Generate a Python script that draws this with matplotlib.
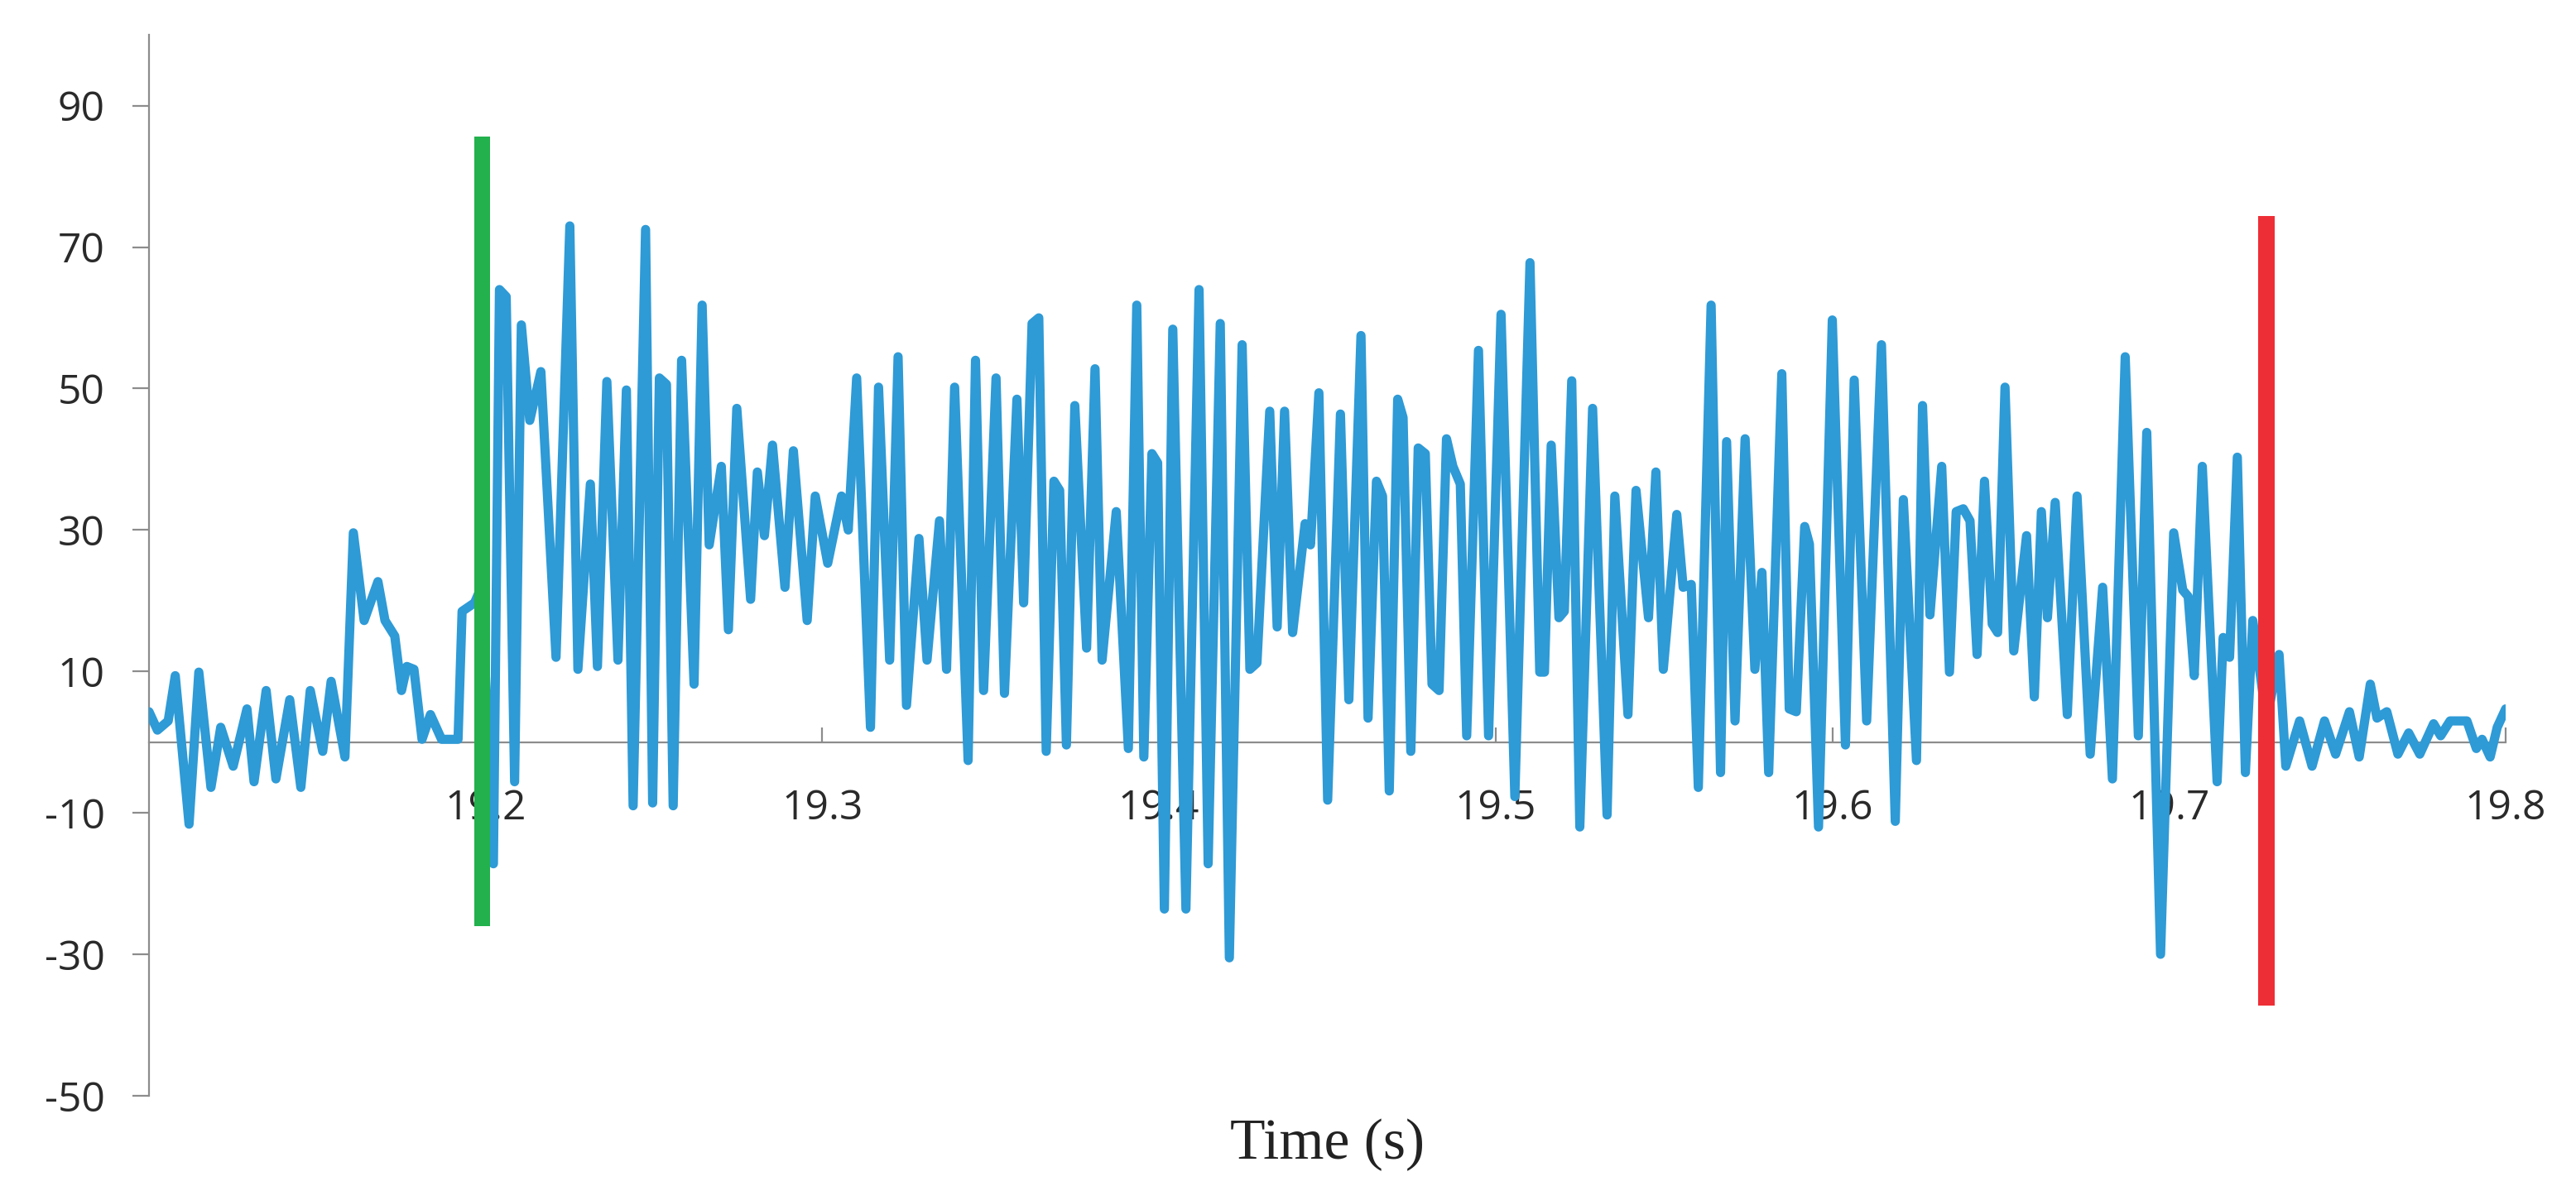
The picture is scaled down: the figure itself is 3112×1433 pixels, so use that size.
import matplotlib
matplotlib.use("Agg")
import matplotlib.pyplot as plt

# ---- data (time in s, signal value) ----
time_s = [
    19.1000, 19.1025, 19.1057, 19.1078, 19.1119, 19.1148, 19.1184, 19.1213, 19.1250, 19.1291,
    19.1312, 19.1348, 19.1377, 19.1418, 19.1451, 19.1479, 19.1516, 19.1541, 19.1582, 19.1607,
    19.1639, 19.1680, 19.1701, 19.1730, 19.1750, 19.1766, 19.1787, 19.1811, 19.1836, 19.1869,
    19.1918, 19.1930, 19.1967, 19.1988, 19.2023, 19.2041, 19.2061, 19.2086, 19.2106, 19.2131,
    19.2164, 19.2209, 19.2250, 19.2274, 19.2311, 19.2332, 19.2360, 19.2393, 19.2418, 19.2438,
    19.2475, 19.2496, 19.2516, 19.2537, 19.2557, 19.2582, 19.2619, 19.2643, 19.2664, 19.2700,
    19.2721, 19.2746, 19.2787, 19.2807, 19.2828, 19.2852, 19.2889, 19.2914, 19.2955, 19.2979,
    19.3016, 19.3057, 19.3077, 19.3102, 19.3143, 19.3167, 19.3200, 19.3225, 19.3250, 19.3287,
    19.3311, 19.3348, 19.3369, 19.3393, 19.3433, 19.3455, 19.3479, 19.3516, 19.3541, 19.3578,
    19.3598, 19.3623, 19.3643, 19.3665, 19.3688, 19.3705, 19.3725, 19.3750, 19.3785, 19.3810,
    19.3831, 19.3873, 19.3909, 19.3934, 19.3955, 19.3979, 19.3996, 19.4016, 19.4041, 19.4080,
    19.4119, 19.4146, 19.4182, 19.4209, 19.4247, 19.4270, 19.4291, 19.4329, 19.4351, 19.4373,
    19.4397, 19.4434, 19.4450, 19.4475, 19.4501, 19.4539, 19.4564, 19.4600, 19.4621, 19.4646,
    19.4664, 19.4684, 19.4709, 19.4725, 19.4748, 19.4770, 19.4791, 19.4811, 19.4832, 19.4854,
    19.4873, 19.4895, 19.4914, 19.4949, 19.4979, 19.5016, 19.5057, 19.5102, 19.5131, 19.5145,
    19.5165, 19.5188, 19.5204, 19.5226, 19.5250, 19.5288, 19.5331, 19.5354, 19.5393, 19.5417,
    19.5454, 19.5476, 19.5498, 19.5538, 19.5557, 19.5581, 19.5602, 19.5640, 19.5668, 19.5686,
    19.5711, 19.5741, 19.5770, 19.5791, 19.5811, 19.5850, 19.5872, 19.5893, 19.5918, 19.5932,
    19.5959, 19.6000, 19.6039, 19.6065, 19.6102, 19.6146, 19.6187, 19.6211, 19.6250, 19.6268,
    19.6290, 19.6325, 19.6348, 19.6368, 19.6389, 19.6409, 19.6430, 19.6452, 19.6475, 19.6491,
    19.6513, 19.6539, 19.6577, 19.6600, 19.6621, 19.6639, 19.6662, 19.6698, 19.6727, 19.6766,
    19.6803, 19.6832, 19.6870, 19.6909, 19.6934, 19.6975, 19.7014, 19.7041, 19.7057, 19.7075,
    19.7099, 19.7143, 19.7161, 19.7180, 19.7203, 19.7227, 19.7249, 19.7290, 19.7327, 19.7347,
    19.7388, 19.7425, 19.7462, 19.7495, 19.7536, 19.7565, 19.7598, 19.7618, 19.7647, 19.7680,
    19.7712, 19.7745, 19.7786, 19.7807, 19.7835, 19.7885, 19.7913, 19.7930, 19.7954, 19.7975,
    19.8000,
]
signal = [
    4.3, 1.7, 3.0, 9.4, -11.6, 9.9, -6.4, 2.1, -3.4, 4.7,
    -5.6, 7.3, -5.2, 6.0, -6.4, 7.3, -1.3, 8.6, -2.1, 29.6,
    17.2, 22.7, 17.2, 15.0, 7.3, 10.7, 10.3, 0.4, 3.9, 0.4,
    0.4, 18.5, 19.7, 22.0, -17.2, 64.0, 63.0, -5.6, 59.0, 45.5,
    52.4, 12.0, 73.0, 10.3, 36.5, 10.7, 51.0, 11.6, 49.8, -9.0,
    72.5, -8.6, 51.5, 50.6, -9.0, 54.0, 8.2, 61.8, 27.9, 39.0,
    15.9, 47.2, 20.2, 38.2, 29.2, 42.0, 21.9, 41.2, 17.2, 34.8,
    25.3, 34.8, 30.0, 51.5, 2.1, 50.2, 11.6, 54.5, 5.2, 28.8,
    11.6, 31.3, 10.3, 50.2, -2.6, 54.0, 7.3, 51.5, 6.9, 48.5,
    19.7, 59.2, 60.0, -1.3, 36.9, 35.6, -0.4, 47.6, 13.3, 52.8,
    11.6, 32.6, -0.9, 61.8, -2.1, 40.8, 39.5, -23.6, 58.4, -23.6,
    64.0, -17.2, 59.2, -30.5, 56.2, 10.3, 11.2, 46.8, 16.3, 46.8,
    15.5, 30.9, 27.9, 49.4, -8.2, 46.4, 6.0, 57.5, 3.4, 36.9,
    34.8, -6.9, 48.5, 45.9, -1.3, 41.6, 40.8, 8.2, 7.3, 42.9,
    39.0, 36.5, 0.9, 55.4, 0.9, 60.5, -7.7, 67.8, 9.9, 9.9,
    42.0, 17.6, 18.5, 51.1, -12.0, 47.2, -10.3, 34.8, 3.9, 35.6,
    17.6, 38.2, 10.3, 32.2, 21.9, 22.3, -6.4, 61.8, -4.3, 42.5,
    3.0, 42.9, 10.3, 24.0, -4.3, 52.1, 4.7, 4.3, 30.5, 28.0,
    -12.0, 59.7, -0.4, 51.2, 3.0, 56.2, -11.2, 34.3, -2.6, 47.6,
    18.0, 39.0, 9.9, 32.6, 33.0, 31.3, 12.4, 36.9, 16.7, 15.5,
    50.2, 12.9, 29.2, 6.4, 32.6, 17.6, 33.9, 3.9, 34.8, -1.7,
    21.9, -5.2, 54.5, 0.9, 43.8, -30.0, 29.6, 21.5, 20.6, 9.4,
    39.0, -5.6, 14.8, 12.0, 40.3, -4.3, 17.2, 3.0, 12.4, -3.4,
    3.0, -3.4, 3.0, -1.7, 4.3, -2.1, 8.2, 3.4, 4.3, -1.7,
    1.3, -1.7, 2.6, 0.9, 3.0, 3.0, -0.9, 0.4, -2.1, 2.1,
    4.7,
]

# vertical marker bars (start / end)
marker_times = [19.199, 19.729]
marker_low = [-26.0, -37.3]
marker_high = [85.6, 74.4]
marker_colors = ["#22b14c", "#ee2e36"]

x_ticks = [19.2, 19.3, 19.4, 19.5, 19.6, 19.7, 19.8]
x_tick_labels = ["19.2", "19.3", "19.4", "19.5", "19.6", "19.7", "19.8"]
y_ticks = [-50, -30, -10, 10, 30, 50, 70, 90]
y_tick_labels = ["-50", "-30", "-10", "10", "30", "50", "70", "90"]
x_label = "Time (s)"

# ---- figure ----
plt.rcParams["axes.unicode_minus"] = False
W, H, DPI = 3112, 1433, 200
fig = plt.figure(figsize=(W / DPI, H / DPI), dpi=DPI)
fig.patch.set_facecolor("white")

left, right = 180 / W, 3027 / W
top_px, bot_px = 42.3, 1323.9
ax = fig.add_axes([left, 1 - bot_px / H, right - left, (bot_px - top_px) / H])
ax.set_xlim(19.1, 19.8)
ax.set_ylim(-50, 100)
ax.set_axisbelow(True)

ax.plot(time_s, signal, color="#2e9ad6", lw=4.0, solid_joinstyle="round",
        solid_capstyle="round", zorder=3)

for xt, lo, hi, c in zip(marker_times, marker_low, marker_high, marker_colors):
    ax.bar(xt, hi - lo, bottom=lo, width=0.0048, color=c, zorder=4, linewidth=0)

axis_col = "#8c8c8c"
for s in ["top", "right"]:
    ax.spines[s].set_visible(False)
ax.spines["left"].set_color(axis_col)
ax.spines["left"].set_linewidth(0.8)
ax.spines["bottom"].set_position(("data", 0))
ax.spines["bottom"].set_color(axis_col)
ax.spines["bottom"].set_linewidth(0.8)

tick_font = dict(family=["Open Sans", "DejaVu Sans"], size=17.9, color="#2a2a2a")
ax.set_xticks(x_ticks)
ax.set_xticklabels(x_tick_labels, **tick_font)
ax.set_yticks(y_ticks)
ax.set_yticklabels(y_tick_labels, **tick_font)
ax.tick_params(axis="x", direction="in", length=6.5, width=0.8, color=axis_col, pad=20)
ax.tick_params(axis="y", direction="out", length=7.2, width=0.8, color=axis_col, pad=12)

fig.text((180 + 3027) / 2 / W, 33 / H, x_label, ha="center", va="baseline",
         family=["Liberation Serif", "DejaVu Serif"], size=25, color="#222222")

fig.savefig("out.png", dpi=DPI, facecolor="white")
